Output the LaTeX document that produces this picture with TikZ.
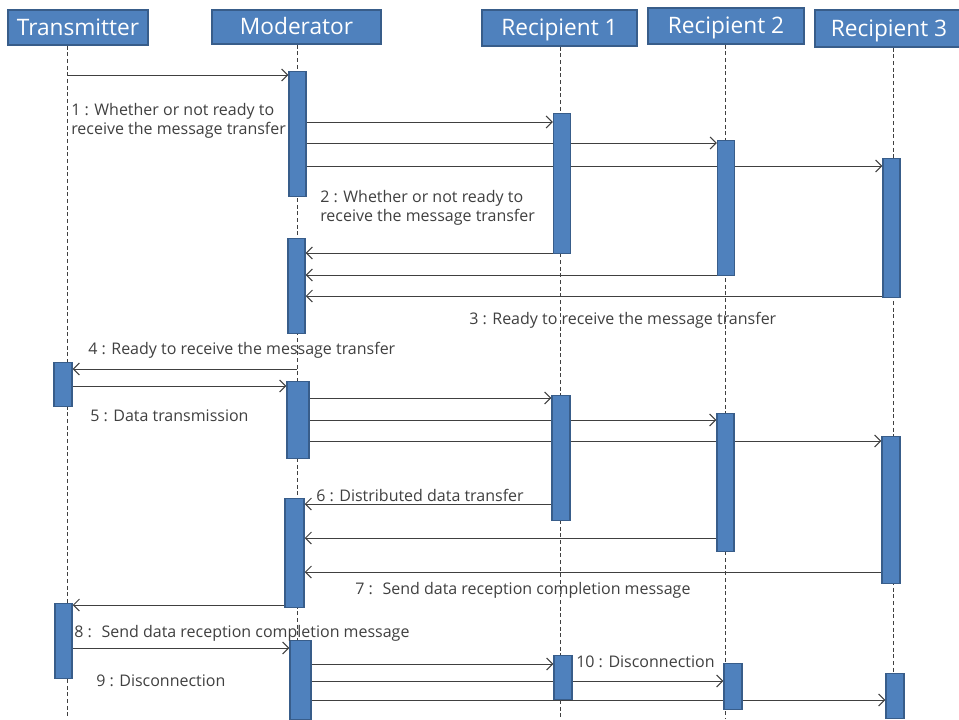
\documentclass[tikz,border=0pt]{standalone}
\usepackage{fontspec}
\setmainfont{Open Sans}
\usetikzlibrary{arrows.meta,backgrounds}
\definecolor{barblue}{HTML}{4F81BD}
\definecolor{baredge}{HTML}{385D8A}
\definecolor{linegray}{HTML}{404040}
\tikzset{
  head/.style={draw=baredge, fill=barblue, line width=1.2pt, text=white,
    font=\fontsize{17}{19}\selectfont, inner sep=0pt,
    text height=12pt, text depth=0.5pt},
  actbar/.style={draw=baredge, fill=barblue, line width=1.1pt,
    minimum width=12.75pt, anchor=north, inner sep=0pt},
  lifeline/.style={draw=linegray, dash pattern=on 3pt off 2pt, line width=0.7pt},
  msg/.style={draw=linegray, line width=0.75pt,
    -{Straight Barb[length=4.5pt,width=9pt]}},
  lbl/.style={text=linegray, font=\fontsize{12}{14.25}\selectfont,
    inner sep=0pt, anchor=west, align=left},
}
\begin{document}
\begin{tikzpicture}[x=0.75pt, y=-0.75pt]
    \useasboundingbox (0,0) rectangle (959,719);

    % heads
    \node[head, minimum width=105pt, minimum height=26.25pt] (tx) at (78,27.5) {Transmitter};
    \node[head, minimum width=126.75pt, minimum height=25.5pt] (mod) at (296.5,27) {Moderator};
    \node[head, minimum width=116.25pt, minimum height=27pt] (rOne) at (559.5,28) {Recipient 1};
    \node[head, minimum width=117pt, minimum height=27pt] (rTwo) at (726,26) {Recipient 2};
    \node[head, minimum width=111pt, minimum height=27.75pt] (rThree) at (889,28.5) {Recipient 3};

    \coordinate (txL) at (67,0);
    \coordinate (modL) at (297,0);
    \coordinate (rOneL) at (560,0);
    \coordinate (rTwoL) at (725,0);
    \coordinate (rThreeL) at (893,0);

    % activation bars
    \node[actbar, minimum height=93.75pt] (modA) at (297.5,71) {};
    \node[actbar, minimum height=71.25pt] (modB) at (296.5,238) {};
    \node[actbar, minimum height=57.75pt, minimum width=16.5pt] (modC) at (298,381) {};
    \node[actbar, minimum height=81.75pt, minimum width=14.25pt] (modD) at (294.5,498) {};
    \node[actbar, minimum height=59.25pt, minimum width=15.75pt] (modE) at (300.5,640) {};

    \node[actbar, minimum height=105pt] (rOneA) at (562,113) {};
    \node[actbar, minimum height=93.75pt, minimum width=13.5pt] (rOneB) at (561,395) {};
    \node[actbar, minimum height=33pt, minimum width=13.5pt] (rOneC) at (563,655) {};

    \node[actbar, minimum height=101.25pt] (rTwoA) at (726,140) {};
    \node[actbar, minimum height=103.5pt] (rTwoB) at (725.5,413) {};
    \node[actbar, minimum height=34.5pt, minimum width=13.5pt] (rTwoC) at (733,663) {};

    \node[actbar, minimum height=104.25pt] (rThreeA) at (891.5,158) {};
    \node[actbar, minimum height=110.25pt, minimum width=13.5pt] (rThreeB) at (891,436) {};
    \node[actbar, minimum height=33.75pt, minimum width=13.5pt] (rThreeC) at (895,673) {};

    \node[actbar, minimum height=33pt, minimum width=13.5pt] (txA) at (63,362) {};
    \node[actbar, minimum height=56.25pt] (txB) at (63.5,603) {};

    \begin{pgfonlayer}{background}
    \fill[white] (0,0) rectangle (959,719);
    % lifelines
    \draw[lifeline] (tx.south -| txL) -- (txL |- 0,719);
    \draw[lifeline] (mod.south -| modL) -- (modL |- 0,719);
    \draw[lifeline] (rOne.south -| rOneL) -- (rOneL |- 0,719);
    \draw[lifeline] (rTwo.south -| rTwoL) -- (rTwoL |- 0,719);
    \draw[lifeline] (rThree.south -| rThreeL) -- (rThreeL |- 0,719);

    % messages
    \draw[msg] (txL |- 0,75) -- (modA.west |- 0,75);
    \draw[msg] (modA.east |- 0,122) -- (rOneA.west |- 0,122);
    \draw[msg] (modA.east |- 0,143) -- (rTwoA.west |- 0,143);
    \draw[msg] (modA.east |- 0,166) -- (rThreeA.west |- 0,166);
    \draw[msg] (rOneA.west |- 0,253) -- (modB.east |- 0,253);
    \draw[msg] (rTwoA.west |- 0,275) -- (modB.east |- 0,275);
    \draw[msg] (rThreeA.west |- 0,296) -- (modB.east |- 0,296);
    \draw[msg] (modL |- 0,369) -- (txA.east |- 0,369);
    \draw[msg] (txA.east |- 0,386) -- (modC.west |- 0,386);
    \draw[msg] (modC.east |- 0,398) -- (rOneB.west |- 0,398);
    \draw[msg] (modC.east |- 0,420) -- (rTwoB.west |- 0,420);
    \draw[msg] (modC.east |- 0,441) -- (rThreeB.west |- 0,441);
    \draw[msg] (rOneB.west |- 0,504) -- (modD.east |- 0,504);
    \draw[msg] (rTwoB.west |- 0,538) -- (modD.east |- 0,538);
    \draw[msg] (rThreeB.west |- 0,572) -- (modD.east |- 0,572);
    \draw[msg] (modD.west |- 0,605) -- (txB.east |- 0,605);
    \draw[msg] (txB.east |- 0,648) -- (modE.west |- 0,648);
    \draw[msg] (modE.east |- 0,664) -- (rOneC.west |- 0,664);
    \draw[msg] (modE.east |- 0,681) -- (rTwoC.west |- 0,681);
    \draw[msg] (modE.east |- 0,700) -- (rThreeC.west |- 0,700);
    \end{pgfonlayer}

    % labels
    \node[lbl] (lOne) at (71,121) {1 : Whether or not ready to\\receive the message transfer};
    \node[lbl] (lTwo) at (320,207.5) {2 : Whether or not ready to\\receive the message transfer};
    \node[lbl] (lThree) at (469,320.5) {3 : Ready to receive the message transfer};
    \node[lbl] (lFour) at (88,350.5) {4 : Ready to receive the message transfer};
    \node[lbl] (lFive) at (90,415.5) {5 : Data transmission};
    \node[lbl] (lSix) at (316,495.5) {6 : Distributed data transfer};
    \node[lbl] (lSeven) at (355,590.5) {7 : \ Send data reception completion message};
    \node[lbl] (lEight) at (74,633.5) {8 : \ Send data reception completion message};
    \node[lbl] (lNine) at (96,680.5) {9 : Disconnection};
    \node[lbl] (lTen) at (576,661.5) {10 : Disconnection};
\end{tikzpicture}
\end{document}
